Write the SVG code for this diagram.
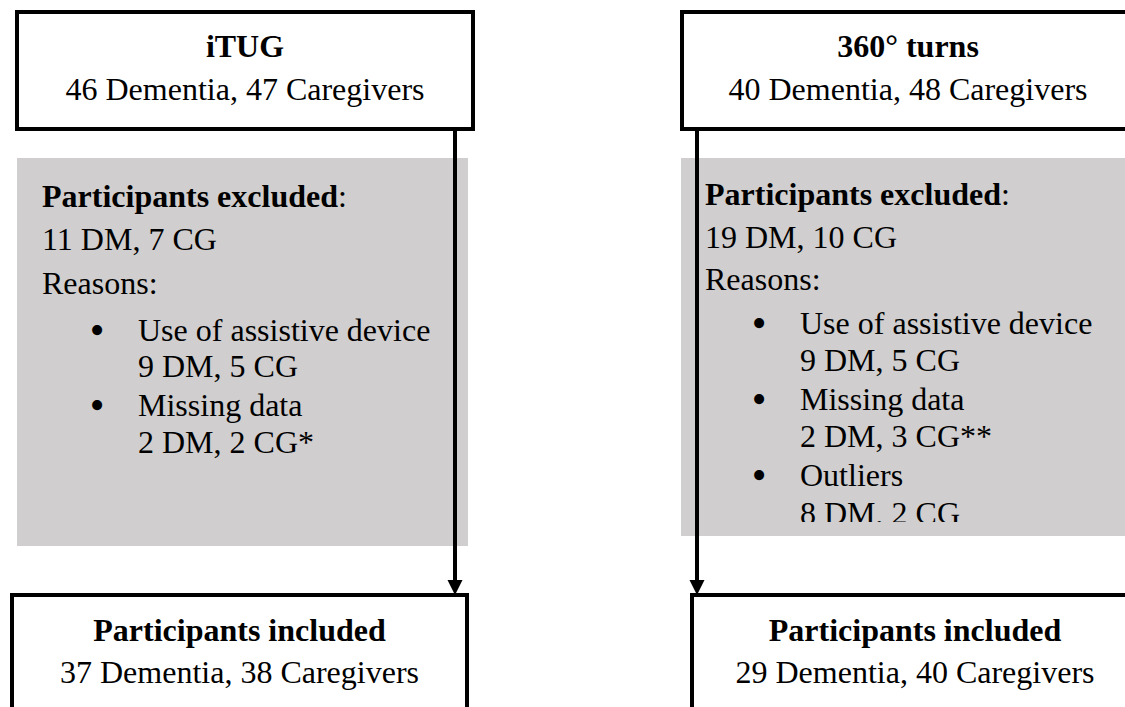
<svg xmlns="http://www.w3.org/2000/svg" width="1125" height="707" viewBox="0 0 1125 707">
  <style>
    text { font-family: "Liberation Serif", "Times New Roman", serif; font-size: 32px; fill: #000; }
    .b { font-weight: 700; }
    .c { text-anchor: middle; }
    .dot { font-size: 42px; text-anchor: middle; }
    .box { fill: #fff; stroke: #000; stroke-width: 4; }
    .panel { fill: #d0cece; }
    .conn { stroke: #000; stroke-width: 4; fill: none; }
    .head { fill: #000; }
  </style>
  <defs>
    <clipPath id="rightPanelClip">
      <rect x="681" y="158" width="444" height="364"/>
    </clipPath>
  </defs>
  <rect width="1125" height="707" fill="#fff"/>

  <!-- iTUG column -->
  <g id="itug">
    <rect class="box" x="17" y="12" width="456" height="117"/>
    <text class="b c" x="245" y="57">iTUG</text>
    <text class="c" x="245" y="100">46 Dementia, 47 Caregivers</text>
  </g>

  <g id="itug-excluded">
    <rect class="panel" x="17" y="158" width="451" height="388"/>
    <text x="42" y="207"><tspan class="b">Participants excluded</tspan>:</text>
    <text x="42" y="250">11 DM, 7 CG</text>
    <text x="42" y="294">Reasons:</text>
    <text class="dot" x="97" y="344">•</text>
    <text x="138" y="341">Use of assistive device</text>
    <text x="138" y="377">9 DM, 5 CG</text>
    <text class="dot" x="97" y="419">•</text>
    <text x="138" y="416">Missing data</text>
    <text x="138" y="453">2 DM, 2 CG*</text>
  </g>

  <g id="itug-included">
    <rect class="box" x="12" y="595" width="455" height="130"/>
    <text class="b c" x="239.5" y="641">Participants included</text>
    <text class="c" x="239.5" y="683">37 Dementia, 38 Caregivers</text>
  </g>

  <!-- 360° turns column -->
  <g id="turns">
    <rect class="box" x="682" y="12" width="452" height="117"/>
    <text class="b c" x="908" y="57">360° turns</text>
    <text class="c" x="908" y="100">40 Dementia, 48 Caregivers</text>
  </g>

  <g id="turns-excluded">
    <rect class="panel" x="681" y="158" width="450" height="378"/>
    <g clip-path="url(#rightPanelClip)">
      <text x="705" y="205"><tspan class="b">Participants excluded</tspan>:</text>
      <text x="705" y="248">19 DM, 10 CG</text>
      <text x="705" y="290">Reasons:</text>
      <text class="dot" x="759" y="337">•</text>
      <text x="800" y="334">Use of assistive device</text>
      <text x="800" y="371">9 DM, 5 CG</text>
      <text class="dot" x="759" y="413">•</text>
      <text x="800" y="410">Missing data</text>
      <text x="800" y="447">2 DM, 3 CG**</text>
      <text class="dot" x="759" y="489">•</text>
      <text x="800" y="486">Outliers</text>
      <text x="800" y="524">8 DM, 2 CG</text>
    </g>
  </g>

  <g id="turns-included">
    <rect class="box" x="692" y="595" width="448" height="130"/>
    <text class="b c" x="915" y="641">Participants included</text>
    <text class="c" x="915" y="683">29 Dementia, 40 Caregivers</text>
  </g>

  <!-- connectors -->
  <g id="connectors">
    <line class="conn" x1="455" y1="129" x2="455" y2="582"/>
    <polygon class="head" points="447.5,580 462.5,580 455,595"/>
    <line class="conn" x1="697" y1="129" x2="697" y2="582"/>
    <polygon class="head" points="689.5,580 704.5,580 697,595"/>
  </g>
</svg>
